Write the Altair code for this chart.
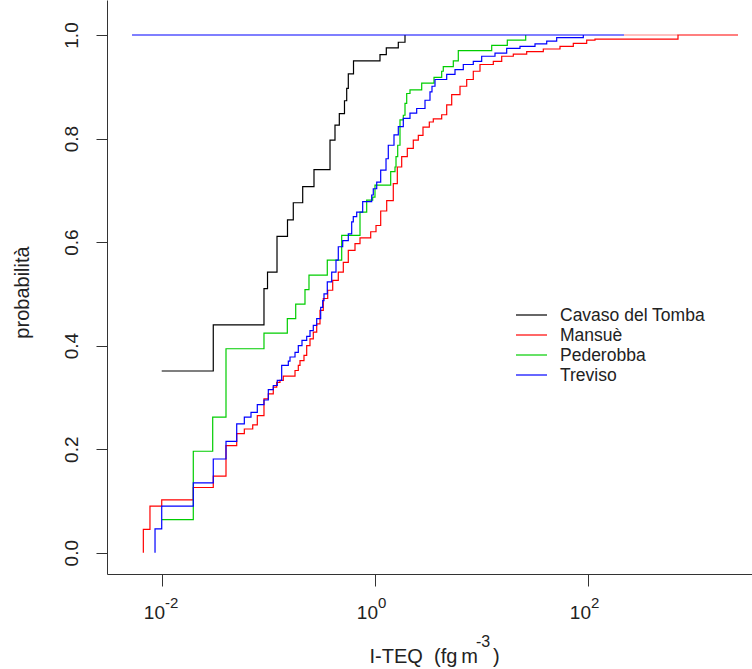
import altair as alt
import pandas as pd

# ---- data (x in fg m^-3, y = cumulative probability) ----
series_names = ["Cavaso del Tomba", "Mansuè", "Pederobba", "Treviso"]
series_colors = ["#000000", "#FF0000", "#00CD00", "#0000FF"]

black_x = [0.00994, 0.0303, 0.0907, 0.0979, 0.1202, 0.1508, 0.1709, 0.2095, 0.2674, 0.3781,
           0.4211, 0.4623, 0.5170, 0.5424, 0.5615, 0.6284, 1.114, 1.277, 1.655, 1.913]
black_y = [0.351, 0.440, 0.510, 0.542, 0.611, 0.643, 0.676, 0.707, 0.740, 0.797,
           0.826, 0.848, 0.873, 0.897, 0.925, 0.950, 0.962, 0.975, 0.986, 1.0]

red_x = [0.00668, 0.00668, 0.00771, 0.00994, 0.01967, 0.0303, 0.0399, 0.0503, 0.0593, 0.0711,
         0.0785, 0.0907, 0.0996, 0.1109, 0.1194, 0.1282, 0.1377, 0.1774, 0.1905, 0.1976,
         0.2154, 0.2284, 0.2453, 0.2634, 0.2836, 0.3045, 0.3270, 0.3597, 0.4008, 0.4522,
         0.5040, 0.5615, 0.6490, 0.7232, 0.9113, 1.022, 1.131, 1.288, 1.485, 1.620,
         1.781, 2.011, 2.289, 2.551, 2.823, 3.236, 3.527, 4.229, 4.713, 5.251,
         6.283, 7.262, 8.375, 9.681, 12.91, 15.48, 19.89, 26.57, 38.05, 54.58,
         72.78, 97.23, 116.3, 700.0, 2562.0]
red_y = [0.0, 0.045, 0.090, 0.102, 0.126, 0.148, 0.207, 0.230, 0.239, 0.247,
         0.265, 0.297, 0.307, 0.320, 0.329, 0.333, 0.341, 0.352, 0.362, 0.371,
         0.381, 0.400, 0.413, 0.426, 0.442, 0.468, 0.491, 0.507, 0.526, 0.542,
         0.561, 0.584, 0.597, 0.608, 0.620, 0.632, 0.660, 0.680, 0.713, 0.745,
         0.765, 0.781, 0.797, 0.806, 0.822, 0.832, 0.838, 0.846, 0.865, 0.885,
         0.901, 0.914, 0.930, 0.943, 0.949, 0.959, 0.963, 0.968, 0.973, 0.978,
         0.984, 0.990, 0.992, 1.0, 1.0]

green_x = [0.00994, 0.01967, 0.02993, 0.0399, 0.0907, 0.1502, 0.1801, 0.2201, 0.2400, 0.3565,
           0.4868, 0.7232, 0.8357, 0.9515, 1.0, 1.404, 1.541, 1.575, 1.634, 1.717,
           1.844, 1.913, 1.985, 2.131, 2.745, 3.581, 4.229, 4.377, 5.436, 6.056,
           12.47, 17.47, 26.00]
green_y = [0.064, 0.196, 0.262, 0.394, 0.424, 0.452, 0.480, 0.508, 0.536, 0.565,
           0.613, 0.658, 0.681, 0.687, 0.710, 0.736, 0.745, 0.765, 0.787, 0.836,
           0.845, 0.868, 0.887, 0.894, 0.907, 0.918, 0.930, 0.939, 0.950, 0.970,
           0.980, 0.990, 1.0]

blue_x = [0.0086, 0.0086, 0.00994, 0.01967, 0.0303, 0.0399, 0.0503, 0.0593, 0.0685, 0.0785,
          0.0907, 0.0996, 0.1109, 0.1209, 0.1330, 0.1535, 0.1592, 0.1774, 0.1905, 0.2063,
          0.2284, 0.2453, 0.2634, 0.2836, 0.3091, 0.3228, 0.3320, 0.3565, 0.3922, 0.4303,
          0.4522, 0.4975, 0.5615, 0.6042, 0.6255, 0.6734, 0.7664, 0.9311, 0.9638, 1.038,
          1.131, 1.269, 1.333, 1.508, 1.655, 1.844, 2.131, 2.463, 2.948, 3.284,
          3.429, 3.660, 4.713, 5.639, 6.747, 8.375, 10.04, 13.39, 17.24, 22.98,
          31.80, 40.96, 50.82, 90.36]
blue_y = [0.0, 0.046, 0.090, 0.135, 0.181, 0.215, 0.249, 0.262, 0.271, 0.286,
          0.295, 0.315, 0.323, 0.333, 0.362, 0.370, 0.378, 0.387, 0.400, 0.410,
          0.418, 0.429, 0.439, 0.452, 0.474, 0.487, 0.500, 0.523, 0.542, 0.565,
          0.591, 0.603, 0.616, 0.639, 0.649, 0.658, 0.678, 0.691, 0.703, 0.716,
          0.739, 0.761, 0.787, 0.807, 0.823, 0.839, 0.849, 0.858, 0.874, 0.890,
          0.901, 0.914, 0.924, 0.933, 0.943, 0.949, 0.959, 0.965, 0.974, 0.978,
          0.983, 0.988, 0.995, 1.0]

# horizontal segments at probability 1
blue_top_x = [0.00523, 217.8]
red_top_x = [217.8, 700.0]

x_ticks = [0.01, 1, 100]
x_tick_base = ["10", "10", "10"]
x_tick_exp = ["-2", "0", "2"]
y_ticks = [0.0, 0.2, 0.4, 0.6, 0.8, 1.0]

x_title_main = "I-TEQ\u00a0 (fg\u2009m"
x_title_exp = "-3"
x_title_close = ")"
y_title = "probabilità"

# ---- build tables ----
rows = []
for name, xs, ys in zip(series_names, [black_x, red_x, green_x, blue_x],
                        [black_y, red_y, green_y, blue_y]):
    for i, (xv, yv) in enumerate(zip(xs, ys)):
        rows.append({"series": name, "x": xv, "y": yv, "i": i})
df = pd.DataFrame(rows)

df_blue_top = pd.DataFrame([{"series": "Treviso", "x": v, "y": 1.0, "i": k}
                            for k, v in enumerate(blue_top_x)])
df_red_top = pd.DataFrame([{"x": v, "y": 1.0, "i": k} for k, v in enumerate(red_top_x)])
df_ticklab = pd.DataFrame({"x": x_ticks, "base": x_tick_base, "exp": x_tick_exp})

FONT = "Liberation Sans"
TXT = "#222222"
W, H = 645, 574

xscale = alt.Scale(type="log", domain=[0.003045, 3467], nice=False)
yscale = alt.Scale(domain=[-0.0411, 1.0676], nice=False, zero=False)
cscale = alt.Scale(domain=series_names, range=series_colors)

x_axis = alt.Axis(
    values=x_ticks, labels=False, title="",
    grid=False, tickSize=12, tickColor="#333333", domainColor="#333333",
)
y_axis = alt.Axis(
    values=y_ticks, format=".1f", title=y_title,
    grid=False, tickSize=11, tickColor="#333333", domainColor="#333333",
    labelAngle=270, labelAlign="center", labelBaseline="bottom", labelPadding=15,
    labelFont=FONT, labelFontSize=19, labelColor=TXT,
    titleFont=FONT, titleFontSize=20, titleFontWeight="normal", titleColor=TXT,
    titleX=-85, titleY=292, titleBaseline="middle", titleAngle=270,
)

red_top = alt.Chart(df_red_top).mark_line(color="#FF8080", strokeWidth=1.2, clip=True).encode(
    x=alt.X("x:Q", scale=xscale, axis=x_axis),
    y=alt.Y("y:Q", scale=yscale, axis=y_axis),
    order=alt.Order("i:Q"),
)

lines = alt.Chart(df).mark_line(interpolate="step-after", strokeWidth=1.2, clip=True).encode(
    x=alt.X("x:Q", scale=xscale),
    y=alt.Y("y:Q", scale=yscale),
    color=alt.Color("series:N", scale=cscale, legend=None),
    order=alt.Order("i:Q"),
)

blue_top = alt.Chart(df_blue_top).mark_line(strokeWidth=1.2, clip=True).encode(
    x=alt.X("x:Q", scale=xscale),
    y=alt.Y("y:Q", scale=yscale),
    color=alt.Color("series:N", scale=cscale, legend=None),
    order=alt.Order("i:Q"),
)

# x tick labels with raised exponents (R plotmath style)
tick_base = alt.Chart(df_ticklab).mark_text(
    align="right", baseline="alphabetic", font=FONT, fontSize=19, color=TXT, dx=3
).encode(x=alt.X("x:Q", scale=xscale), y=alt.value(619), text="base:N")
tick_exp = alt.Chart(df_ticklab).mark_text(
    align="left", baseline="alphabetic", font=FONT, fontSize=15, color=TXT, dx=3
).encode(x=alt.X("x:Q", scale=xscale), y=alt.value(608), text="exp:N")

one = alt.Data(values=[{"a": 1}])
title_main = alt.Chart(one).mark_text(
    align="right", baseline="alphabetic", font=FONT, fontSize=20, color=TXT
).encode(x=alt.value(371), y=alt.value(663), text=alt.value(x_title_main))
title_exp = alt.Chart(one).mark_text(
    align="left", baseline="alphabetic", font=FONT, fontSize=16, color=TXT
).encode(x=alt.value(369), y=alt.value(647), text=alt.value(x_title_exp))
title_close = alt.Chart(one).mark_text(
    align="left", baseline="alphabetic", font=FONT, fontSize=20, color=TXT
).encode(x=alt.value(386), y=alt.value(663), text=alt.value(x_title_close))

# ---- manual legend (R style) ----
legend_layers = []
for k, (name, col) in enumerate(zip(series_names, series_colors)):
    yy = 315 + 20 * k
    legend_layers.append(
        alt.Chart(one).mark_rule(color=col, strokeWidth=1.2).encode(
            x=alt.value(409), x2=alt.value(440), y=alt.value(yy))
    )
    legend_layers.append(
        alt.Chart(one).mark_text(align="left", baseline="middle", font=FONT, fontSize=17.5,
                                 color=TXT).encode(
            x=alt.value(453), y=alt.value(yy + 1), text=alt.value(name))
    )

chart = alt.layer(red_top, lines, blue_top, tick_base, tick_exp,
                  title_main, title_exp, title_close, *legend_layers).properties(
    width=W, height=H,
    padding={"left": 107, "top": 0, "right": 0, "bottom": 95},
    autosize=alt.AutoSizeParams(type="none"),
    background="white",
).configure_view(stroke=None)

chart.save("out.html", embed_options={"renderer": "svg", "actions": False})
